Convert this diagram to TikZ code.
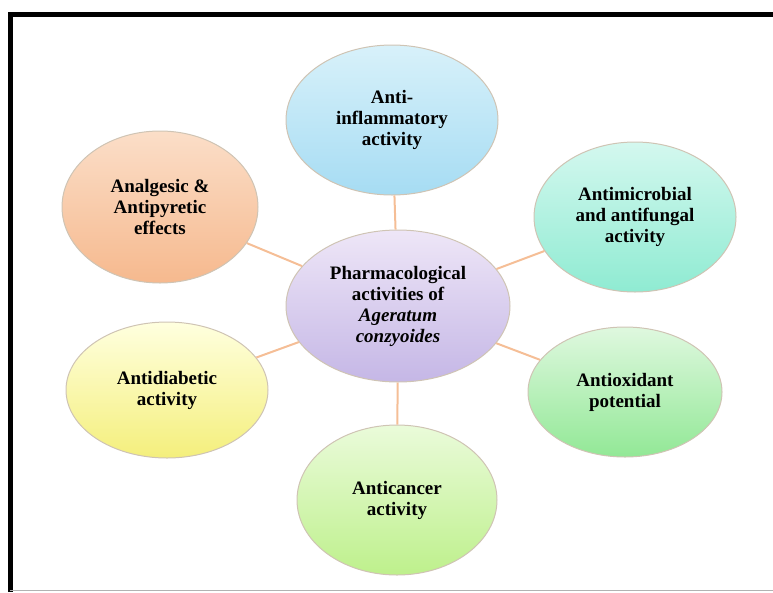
\documentclass[tikz,border=0pt]{standalone}
\usepackage{fontspec}
\setmainfont{Liberation Serif}
\definecolor{inflamTop}{HTML}{D8F1FA}
\definecolor{inflamBot}{HTML}{A6DCF3}
\definecolor{analgTop}{HTML}{FBDEC8}
\definecolor{analgBot}{HTML}{F6B98E}
\definecolor{microbTop}{HTML}{D4F8EF}
\definecolor{microbBot}{HTML}{8FEBD2}
\definecolor{coreTop}{HTML}{EEE6F7}
\definecolor{coreBot}{HTML}{C5B7E6}
\definecolor{diabTop}{HTML}{FFFFDF}
\definecolor{diabBot}{HTML}{F4EF7C}
\definecolor{oxidTop}{HTML}{DFF8DF}
\definecolor{oxidBot}{HTML}{92E896}
\definecolor{cancerTop}{HTML}{EAFBDA}
\definecolor{cancerBot}{HTML}{BEF08C}
\definecolor{rimTan}{HTML}{CFC4B4}
\definecolor{linkPeach}{HTML}{F5BE96}
\usepackage{tikz}
\usetikzlibrary{shapes.geometric}

\begin{document}
\begin{tikzpicture}[x=1pt, y=-1pt,
    bubble/.style={ellipse, draw=rimTan, line width=1pt, inner sep=0pt,
      align=center, font=\fontsize{19}{21}\selectfont\bfseries},
    link/.style={draw=linkPeach, line width=2pt}]
  \useasboundingbox (0,0) rectangle (773,592);
  % frame
  \draw[line width=4.5pt] (10.5,592) -- (10.5,14.5) -- (773,14.5);
  \draw[black!30, line width=1.5pt] (10,590.5) -- (773,590.5);

  % hub
  \node[bubble, top color=coreTop, bottom color=coreBot,
        minimum width=224, minimum height=152] (core) at (398,306)
        {Pharmacological\\activities of\\\textit{Ageratum}\\\textit{conzyoides}};

  % activities
  \node[bubble, top color=inflamTop, bottom color=inflamBot,
        minimum width=212, minimum height=150] (inflam) at (392,120)
        {Anti-\\inflammatory\\activity};
  \node[bubble, top color=analgTop, bottom color=analgBot,
        minimum width=196, minimum height=152] (analg) at (160,207)
        {Analgesic \&\\Antipyretic\\effects};
  \node[bubble, top color=microbTop, bottom color=microbBot,
        minimum width=202, minimum height=150] (microb) at (635,217)
        {Antimicrobial\\and antifungal\\activity};
  \node[bubble, top color=diabTop, bottom color=diabBot,
        minimum width=202, minimum height=136] (diab) at (167,390)
        {Antidiabetic\\activity};
  \node[bubble, top color=oxidTop, bottom color=oxidBot,
        minimum width=194, minimum height=130] (oxid) at (625,392)
        {Antioxidant\\potential};
  \node[bubble, top color=cancerTop, bottom color=cancerBot,
        minimum width=200, minimum height=150] (cancer) at (397,500)
        {Anticancer\\activity};

  % spokes
  \foreach \leaf in {inflam, analg, microb, diab, oxid, cancer}
    \draw[link] (core) -- (\leaf);
\end{tikzpicture}
\end{document}
